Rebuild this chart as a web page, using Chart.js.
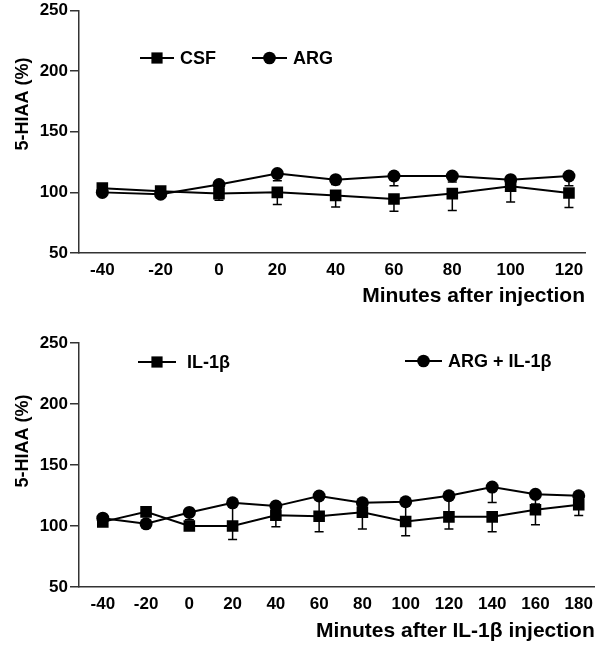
<!DOCTYPE html>
<html>
<head>
<meta charset="utf-8">
<script src="https://cdn.jsdelivr.net/npm/chart.js@4.4.0/dist/chart.umd.min.js"></script>
<style>
  body { margin: 0; background: #fff; }
  .box { position: relative; width: 600px; }
</style>
</head>
<body>
<div class="box" style="height:310px"><canvas id="topChart"></canvas></div>
<div class="box" style="height:335px"><canvas id="bottomChart"></canvas></div>
<script>
// top panel: CSF vs ARG
const minutesTop = [-40, -20, 0, 20, 40, 60, 80, 100, 120];
const csf = [103.5, 101, 99, 100, 97.5, 94.5, 99, 105, 99.5];
const csfErr = [2, 2, 5.5, 10, 9.5, 10, 14, 13, 12];
const arg = [100, 98.5, 106.5, 115.5, 110.5, 113.5, 113.5, 110.5, 113.5];
const argErr = [2, 2, 4, 6, 4, 8, 5, 4, 8];

// bottom panel: IL-1b vs ARG + IL-1b
const minutesBottom = [-40, -20, 0, 20, 40, 60, 80, 100, 120, 140, 160, 180];
const il1b = [103.4, 111.6, 100, 100, 108.8, 108, 111.3, 103.7, 107.5, 107.5, 113.3, 117.4];
const il1bErr = [1, 2, 3, 11, 9.5, 12.8, 13.7, 11.7, 10, 12.3, 12.3, 8.8];
const argIl1b = [106.4, 101.8, 111.1, 119, 116.3, 124.6, 119, 119.9, 124.8, 131.9, 126, 124.8];
const argIl1bErr = [3, 3, 6, 18, 6, 16, 7, 14, 16, 12.6, 8, 5];

const yTicks = [50, 100, 150, 200, 250];

const FONT = '"Liberation Sans", Arial, Helvetica, sans-serif';

// error bars (downward only) + y title + in-plot legend
const panelText = {
  id: 'panelText',
  beforeDatasetsDraw(chart) {
    const ctx = chart.ctx;
    const xs = chart.scales.x, ys = chart.scales.y;
    ctx.save();
    ctx.strokeStyle = '#000';
    ctx.lineWidth = 1.5;
    chart.data.datasets.forEach(ds => {
      ds.data.forEach((p, i) => {
        const err = ds.errors[i];
        if (!err) return;
        const x = xs.getPixelForValue(p.x);
        const y1 = ys.getPixelForValue(p.y);
        const y2 = ys.getPixelForValue(p.y - err);
        ctx.beginPath();
        ctx.moveTo(x, y1);
        ctx.lineTo(x, y2);
        ctx.moveTo(x - 4.5, y2);
        ctx.lineTo(x + 4.5, y2);
        ctx.stroke();
      });
    });
    ctx.restore();
  },
  afterDraw(chart, args, opts) {
    const ctx = chart.ctx;
    ctx.save();
    ctx.fillStyle = '#000';
    // y title
    ctx.translate(opts.titleX, opts.titleY);
    ctx.rotate(-Math.PI / 2);
    ctx.font = 'bold 18px ' + FONT;
    ctx.textAlign = 'center';
    ctx.textBaseline = 'middle';
    ctx.fillText(opts.yTitle, 0, 0);
    ctx.setTransform(1, 0, 0, 1, 0, 0);
    // legend
    ctx.strokeStyle = '#000';
    ctx.lineWidth = 2;
    ctx.textAlign = 'left';
    opts.legend.forEach(it => {
      ctx.beginPath();
      ctx.moveTo(it.x1, it.y);
      ctx.lineTo(it.x2, it.y);
      ctx.stroke();
      const mx = (it.x1 + it.x2) / 2;
      if (it.style === 'rect') {
        ctx.fillRect(mx - 5.6, it.y - 5.6, 11.2, 11.2);
      } else {
        ctx.beginPath();
        ctx.arc(mx, it.y, 6.3, 0, Math.PI * 2);
        ctx.fill();
      }
      ctx.font = 'bold 18px ' + FONT;
      ctx.fillText(it.text, it.tx, it.y + 1);
    });
    ctx.restore();
  }
};

function makePanel(id, cfg) {
  return new Chart(document.getElementById(id), {
    type: 'line',
    data: {
      datasets: cfg.series.map(s => ({
        label: s.label,
        data: cfg.minutes.map((m, i) => ({ x: m, y: s.values[i] })),
        errors: s.errors,
        borderColor: '#000',
        backgroundColor: '#000',
        borderWidth: 2,
        pointStyle: s.style,
        pointRadius: s.style === 'rect' ? 8.2 : 6.5,
        pointBorderWidth: 0,
        tension: 0
      }))
    },
    options: {
      responsive: true,
      maintainAspectRatio: false,
      animation: false,
      devicePixelRatio: 1,
      layout: { autoPadding: false, padding: { top: cfg.padTop, right: cfg.padRight, left: 0, bottom: 0 } },
      plugins: {
        legend: { display: false },
        tooltip: { enabled: false },
        panelText: { yTitle: '5-HIAA (%)', titleX: 23, titleY: cfg.titleY, legend: cfg.legend }
      },
      scales: {
        x: {
          type: 'linear',
          min: cfg.xMin,
          max: cfg.xMax,
          afterBuildTicks: s => { s.ticks = cfg.minutes.map(v => ({ value: v })); },
          afterFit: s => { s.height = cfg.xHeight; },
          grid: { display: false, drawTicks: false },
          border: { display: true, color: '#333', width: 1.5 },
          ticks: {
            color: '#000', padding: 7, autoSkip: false, maxRotation: 0,
            font: { family: FONT, size: 17, weight: 'bold' }
          },
          title: {
            display: true, text: cfg.xTitle, align: 'end', color: '#000',
            font: { family: FONT, size: 21, weight: 'bold' },
            padding: { top: 0, bottom: 1 }
          }
        },
        y: {
          min: 50,
          max: 250,
          afterBuildTicks: s => { s.ticks = yTicks.map(v => ({ value: v })); },
          afterFit: s => { s.width = 79; },
          grid: { display: true, drawOnChartArea: false, drawTicks: true, tickLength: 9, color: '#333', lineWidth: 1.5 },
          border: { display: true, color: '#333', width: 1.5 },
          ticks: {
            color: '#000', padding: 2,
            font: { family: FONT, size: 17, weight: 'bold', lineHeight: 1 }
          }
        }
      }
    },
    plugins: [panelText]
  });
}

makePanel('topChart', {
  minutes: minutesTop,
  xMin: -48, xMax: 125.5,
  padTop: 9, padRight: 15, xHeight: 57,
  titleY: 104,
  xTitle: 'Minutes after injection',
  series: [
    { label: 'CSF', values: csf, errors: csfErr, style: 'rect' },
    { label: 'ARG', values: arg, errors: argErr, style: 'circle' }
  ],
  legend: [
    { text: 'CSF', style: 'rect', x1: 140, x2: 174, tx: 180, y: 58 },
    { text: 'ARG', style: 'circle', x1: 252, x2: 287, tx: 293, y: 58 }
  ]
});

makePanel('bottomChart', {
  minutes: minutesBottom,
  xMin: -51, xMax: 187.4,
  padTop: 33, padRight: 3, xHeight: 58,
  titleY: 131,
  xTitle: 'Minutes after IL-1β injection',
  series: [
    { label: 'IL-1β', values: il1b, errors: il1bErr, style: 'rect' },
    { label: 'ARG + IL-1β', values: argIl1b, errors: argIl1bErr, style: 'circle' }
  ],
  legend: [
    { text: 'IL-1β', style: 'rect', x1: 138, x2: 176, tx: 187, y: 52 },
    { text: 'ARG + IL-1β', style: 'circle', x1: 405, x2: 442, tx: 448, y: 51 }
  ]
});
</script>
</body>
</html>
